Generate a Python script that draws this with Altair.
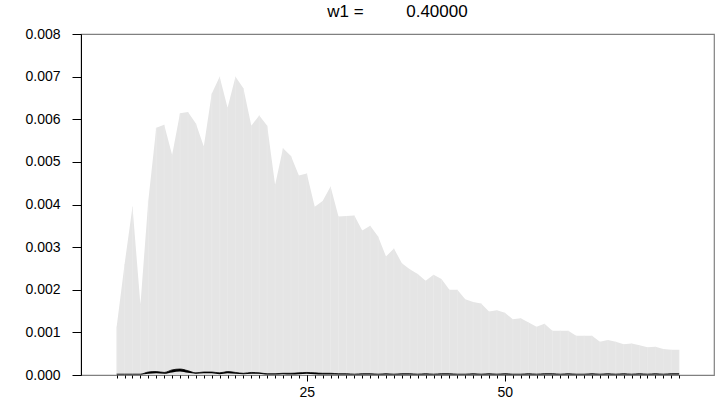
import altair as alt
import pandas as pd

# ---- data ----
x_vals = list(range(1, 73))
density = [
    0.00113, 0.00260, 0.00395, 0.00165, 0.00410, 0.00580, 0.00587, 0.00516,
    0.00614, 0.00617, 0.00590, 0.00536, 0.00660, 0.00700, 0.00627, 0.00700,
    0.00673, 0.00585, 0.00609, 0.00585, 0.00446, 0.00532, 0.00514, 0.00468,
    0.00473, 0.00395, 0.00408, 0.00442, 0.00372, 0.00373, 0.00374, 0.00339,
    0.00350, 0.00325, 0.00278, 0.00297, 0.00262, 0.00248, 0.00237, 0.00221,
    0.00235, 0.00225, 0.00200, 0.00200, 0.00178, 0.00171, 0.00168, 0.00149,
    0.00152, 0.00146, 0.00131, 0.00133, 0.00123, 0.00113, 0.00120, 0.00104,
    0.00104, 0.00104, 0.00092, 0.00092, 0.00092, 0.00078, 0.00082, 0.00078,
    0.00072, 0.00074, 0.00070, 0.00065, 0.00066, 0.00061, 0.00059, 0.00059,
]
band_upper = [
    0.00002, 0.00002, 0.00002, 0.00002, 0.00007, 0.00008, 0.00006, 0.00012,
    0.00014, 0.00010, 0.00005, 0.00007, 0.00007, 0.00005, 0.00008, 0.00006,
    0.00004, 0.00006, 0.00005, 0.00003, 0.00003, 0.00004, 0.00004, 0.00005,
    0.00006, 0.00005, 0.00004, 0.00004, 0.00003, 0.00003, 0.00002, 0.00003,
    0.00003, 0.00002, 0.00003, 0.00002, 0.00003, 0.00003, 0.00002, 0.00003,
    0.00002, 0.00003, 0.00003, 0.00002, 0.00002, 0.00003, 0.00002, 0.00003,
    0.00002, 0.00003, 0.00002, 0.00002, 0.00003, 0.00002, 0.00003, 0.00003,
    0.00002, 0.00003, 0.00002, 0.00002, 0.00003, 0.00002, 0.00003, 0.00002,
    0.00003, 0.00002, 0.00003, 0.00002, 0.00003, 0.00002, 0.00003, 0.00003,
]
band_lower = [
    0.00001, 0.00001, 0.00001, 0.00001, 0.00003, 0.00004, 0.00003, 0.00006,
    0.00008, 0.00005, 0.00003, 0.00004, 0.00004, 0.00002, 0.00004, 0.00003,
    0.00002, 0.00003, 0.00003, 0.00001, 0.00001, 0.00002, 0.00001, 0.00002,
    0.00003, 0.00002, 0.00001, 0.00001, 0.00001, 0.00001, 0.00001, 0.00001,
    0.00001, 0.00001, 0.00001, 0.00001, 0.00001, 0.00001, 0.00001, 0.00001,
    0.00001, 0.00001, 0.00001, 0.00001, 0.00001, 0.00001, 0.00001, 0.00001,
    0.00001, 0.00001, 0.00001, 0.00001, 0.00001, 0.00001, 0.00001, 0.00001,
    0.00001, 0.00001, 0.00001, 0.00001, 0.00001, 0.00001, 0.00001, 0.00001,
    0.00001, 0.00001, 0.00001, 0.00001, 0.00001, 0.00001, 0.00001, 0.00001,
]
y_ticks = [0.000, 0.001, 0.002, 0.003, 0.004, 0.005, 0.006, 0.007, 0.008]
x_major = [25, 50]
title_text = "w1 =" + "\u00a0" * 9 + "0.40000"

df = pd.DataFrame({"x": x_vals, "density": density,
                   "upper": band_upper, "lower": band_lower})

FONT = "Liberation Sans"
xscale = alt.Scale(domain=[-3.5, 76.4], nice=False, zero=False)
yscale = alt.Scale(domain=[0, 0.008], nice=False)

yaxis = alt.Axis(values=y_ticks, format=".3f", tickSize=9, tickColor="black",
                 domain=True, domainColor="black", grid=False, title=None,
                 labelFont=FONT, labelFontSize=14, labelColor="black",
                 labelPadding=12)

base = alt.Chart(df)

area = base.mark_area(color="#e5e5e5", interpolate="linear").encode(
    x=alt.X("x:Q", scale=xscale,
            axis=alt.Axis(values=x_vals, labels=False, tickSize=3, tickColor="black",
                          domain=False, grid=False, title=None, orient="bottom")),
    y=alt.Y("density:Q", scale=yscale, axis=yaxis),
)

seams = base.mark_rule(color="#ebebeb", strokeWidth=0.6).encode(
    x=alt.X("x:Q", scale=xscale,
            axis=alt.Axis(values=x_major, tickSize=6, tickColor="black", domain=False,
                          grid=False, title=None, format="d", labelFont=FONT,
                          labelFontSize=14, labelColor="black", labelPadding=4,
                          orient="bottom")),
    y=alt.Y("density:Q", scale=yscale, axis=yaxis),
    y2=alt.datum(0),
)

band = base.mark_area(color="black", interpolate="monotone").encode(
    x=alt.X("x:Q", scale=xscale, axis=None),
    y=alt.Y("upper:Q", scale=yscale, axis=yaxis),
    y2="lower:Q",
)

band_line = base.mark_line(color="black", strokeWidth=0.8, interpolate="monotone").encode(
    x=alt.X("x:Q", scale=xscale, axis=None),
    y=alt.Y("upper:Q", scale=yscale, axis=yaxis),
)

chart = (
    alt.layer(area, seams, band, band_line)
    .resolve_axis(x="independent")
    .properties(
        width=633, height=341,
        autosize=alt.AutoSizeParams(type="none"),
        padding={"left": 81, "top": 34, "right": 10, "bottom": 31},
        title=alt.TitleParams(title_text, font=FONT, fontSize=17, fontWeight="normal",
                              color="black", anchor="middle", offset=6),
        background="white",
    )
    .configure_view(stroke="#808080", strokeWidth=1.2)
)

chart.save("out.html", embed_options={"renderer": "svg", "actions": False})
